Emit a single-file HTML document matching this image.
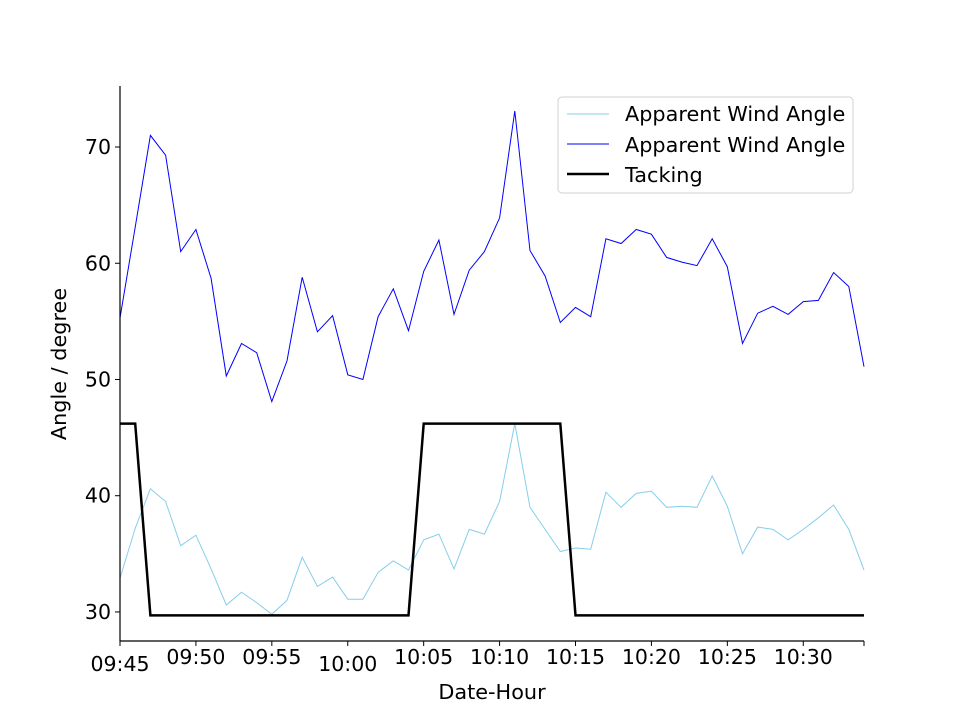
<!DOCTYPE html>
<html><head><meta charset="utf-8"><style>
body{margin:0;background:#fff}
svg text{font-family:"DejaVu Sans","Liberation Sans",sans-serif;fill:#000}
</style></head><body>
<svg id="chart" width="960" height="720" xmlns="http://www.w3.org/2000/svg">
<g id="plot"></g>
<g id="axes"></g>
<text x="492" y="699" font-size="20.8" text-anchor="middle">Date-Hour</text>
<text transform="translate(66,364) rotate(-90)" font-size="20.8" text-anchor="middle">Angle / degree</text>
<g>
<rect x="558" y="97" width="295" height="96" rx="4" fill="#fff" fill-opacity="0.8" stroke="#d0d0d0"/>
<g><line x1="567" y1="114" x2="609" y2="114" stroke="#87ceeb" stroke-width="1"/><text x="625" y="121" font-size="20.8">Apparent Wind Angle</text></g>
<g><line x1="567" y1="144" x2="609" y2="144" stroke="#0000ff" stroke-width="1"/><text x="625" y="152" font-size="20.8">Apparent Wind Angle</text></g>
<g><line x1="567" y1="174" x2="609" y2="174" stroke="#000" stroke-width="2.5"/><text x="625" y="182" font-size="20.8">Tacking</text></g>
</g>
</svg>
<script>
const minutes = Array.from({length:50},(_,i)=>i); // minutes after 09:45
const awaLight = [32.9,37.2,40.6,39.5,35.7,36.6,33.7,30.6,31.7,30.8,29.8,31.0,34.7,32.2,33.0,31.1,31.1,33.4,34.4,33.6,36.2,36.7,33.7,37.1,36.7,39.5,46.2,39.0,37.1,35.2,35.5,35.4,40.3,39.0,40.2,40.4,39.0,39.1,39.0,41.7,39.1,35.0,37.3,37.1,36.2,37.1,38.1,39.2,37.1,33.6];
const awaDark = [55.3,63.1,71.0,69.3,61.0,62.9,58.7,50.3,53.1,52.3,48.1,51.6,58.8,54.1,55.5,50.4,50.0,55.4,57.8,54.2,59.3,62.0,55.6,59.4,61.0,63.9,73.1,61.1,58.9,54.9,56.2,55.4,62.1,61.7,62.9,62.5,60.5,60.1,59.8,62.1,59.7,53.1,55.7,56.3,55.6,56.7,56.8,59.2,58.0,51.1];
const tacking = [46.2,46.2,29.7,29.7,29.7,29.7,29.7,29.7,29.7,29.7,29.7,29.7,29.7,29.7,29.7,29.7,29.7,29.7,29.7,29.7,46.2,46.2,46.2,46.2,46.2,46.2,46.2,46.2,46.2,46.2,29.7,29.7,29.7,29.7,29.7,29.7,29.7,29.7,29.7,29.7,29.7,29.7,29.7,29.7,29.7,29.7,29.7,29.7,29.7,29.7];
const yTicks = [30,40,50,60,70];
const xTicks = [0,5,10,15,20,25,30,35,40,45];
const xTickLabels = ["09:45","09:50","09:55","10:00","10:05","10:10","10:15","10:20","10:25","10:30"];

const X0=120,X1=864,Y0=641,Y1=86, xMin=0,xMax=49, yMin=27.5,yMax=75.25;
const xs=v=>X0+(v-xMin)/(xMax-xMin)*(X1-X0);
const ys=v=>Y0-(v-yMin)/(yMax-yMin)*(Y0-Y1);
const NS="http://www.w3.org/2000/svg";
const plot=document.getElementById('plot'), axes=document.getElementById('axes');
function line(vals,color,w,name){
  const p=document.createElementNS(NS,'polyline');
  p.setAttribute('points',vals.map((v,i)=>xs(minutes[i]).toFixed(1)+','+ys(v).toFixed(1)).join(' '));
  p.setAttribute('fill','none');p.setAttribute('stroke',color);p.setAttribute('stroke-width',w);
  
  
  plot.appendChild(p);
}
line(awaLight,'#87ceeb',1,'series-awa-light');
line(awaDark,'#0000ff',1,'series-awa-dark');
line(tacking,'#000',2.5,'series-tacking');
function mk(tag,attrs,parent){const e=document.createElementNS(NS,tag);for(const k in attrs)e.setAttribute(k,attrs[k]);parent.appendChild(e);return e;}
const ly=mk('line',{x1:X0,y1:Y1,x2:X0,y2:Y0+0.5,stroke:'#000','stroke-width':1.2},axes);


const lx=mk('line',{x1:X0-0.5,y1:Y0,x2:X1,y2:Y0,stroke:'#000','stroke-width':1.2},axes);


yTicks.forEach(v=>{
  const y=ys(v);
  mk('line',{x1:X0-5,y1:y,x2:X0,y2:y,stroke:'#000','stroke-width':1},axes);
  const t=mk('text',{x:X0-9,y:y+7,'font-size':20.5,'text-anchor':'end'},axes);
  t.textContent=v;
  
  
});
xTicks.forEach((v,i)=>{
  const x=xs(v);
  mk('line',{x1:x,y1:Y0,x2:x,y2:Y0+5,stroke:'#000','stroke-width':1},axes);
  const low=(i===0||i===3);
  const t=mk('text',{x:x,y:low?671:664,'font-size':20.5,'text-anchor':'middle'},axes);
  t.textContent=xTickLabels[i];
  
  
});
mk('line',{x1:X1,y1:Y0,x2:X1,y2:Y0+5,stroke:'#000','stroke-width':1},axes);
</script>
</body></html>
